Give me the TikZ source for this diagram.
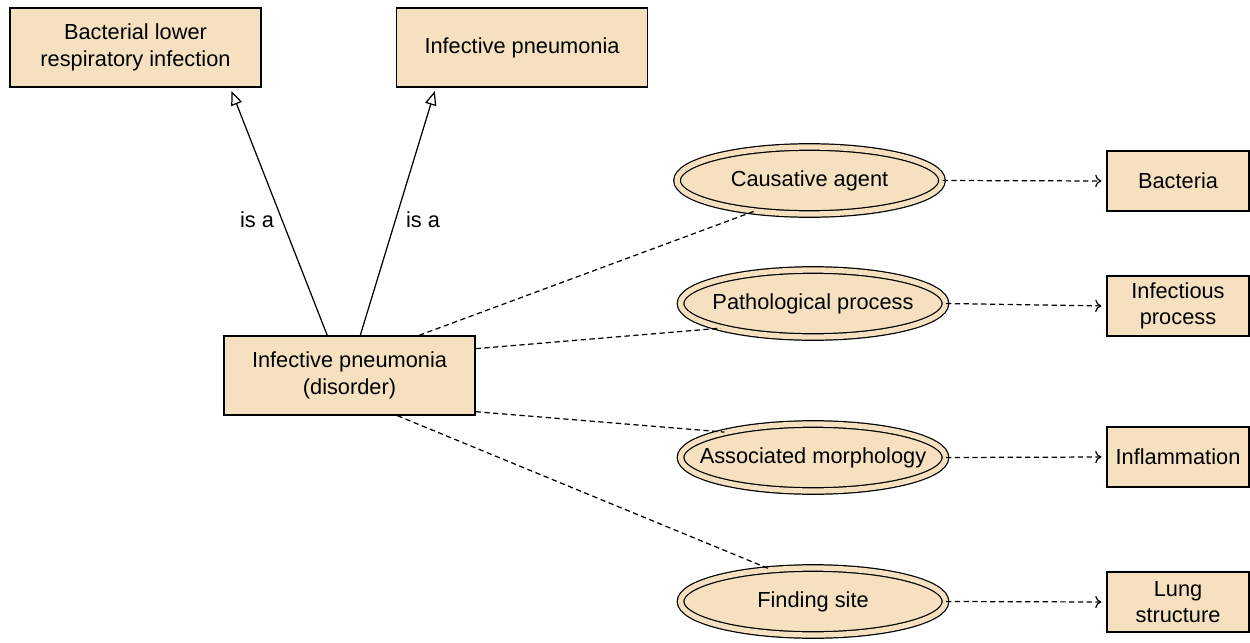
\documentclass[tikz,border=0pt]{standalone}
\usepackage{fontspec}
\setmainfont{Liberation Sans}
\usepackage{tikz}
\usetikzlibrary{shapes,arrows,arrows.meta}
\usetikzlibrary{calc}
\definecolor{conceptfill}{HTML}{F5E1C0}

\begin{document}
\begin{tikzpicture}[x=0.02cm, y=-0.02cm,
	every node/.style={font=\fontsize{12.4}{15}\selectfont},
	concept/.style={draw, line width=0.8pt, fill=conceptfill, align=center, minimum width=5.02cm, minimum height=1.58cm, inner sep=2pt},
	valuebox/.style={concept, minimum width=2.84cm, minimum height=1.2cm},
	attribute/.style={ellipse, draw, line width=0.7pt, double=conceptfill, double distance=3pt, fill=conceptfill, minimum width=5.3cm, minimum height=1.34cm, inner sep=0pt},
	isa/.style={-{Triangle[open, length=8pt, width=6.5pt]}, line width=0.7pt, shorten >=2pt},
	rel/.style={line width=0.7pt, dash pattern=on 3pt off 2pt},
	relarrow/.style={rel, -{To[length=3.5pt, width=7pt]}, shorten >=2.8pt}]
	\useasboundingbox (0,0) rectangle (1250,642);
	
	\def\xv{1178} % column of the values
	\def\xa{813} % column of the attributes
	
	% parents
	\node[concept] (bact) at (135.5,47.5) {Bacterial lower\\respiratory infection};
	\node[concept] (pneu) at (522,47.5) {Infective pneumonia};
	
	% the disorder
	\node[concept] (dis) at (349.5,375.5) {Infective pneumonia\\(disorder)};
	
	% is a
	\draw[isa] (dis.119) -- (bact.-23);
	\draw[isa] (dis.75) -- (pneu.-155);
	\node (isa1) at (257,220) {is a};
	\node (isa2) at (423,220) {is a};
	
	% attributes (text kept out of the size of the ellipse)
	\node[attribute] (ca) at (809.5,180.5) {\makebox[0pt]{Causative agent}};
	\node[attribute] (pp) at (\xa,303.5) {\makebox[0pt]{Pathological process}};
	\node[attribute] (am) at (\xa,457.5) {\makebox[0pt]{Associated morphology}};
	\node[attribute] (fs) at (\xa,601.5) {\makebox[0pt]{Finding site}};
	
	% values
	\node[valuebox] (bac) at (\xv,181) {Bacteria};
	\node[valuebox] (ip) at (\xv,306) {Infectious\\process};
	\node[valuebox] (inf) at (\xv,457) {Inflammation};
	\node[valuebox] (lung) at (\xv,602) {Lung\\structure};
	
	% disorder to attributes
	\draw[rel] (dis.30) -- (ca.209);
	\draw[rel] (dis.12) -- (pp.195);
	\draw[rel] (dis.-16) -- (am.164);
	\draw[rel] (dis.-40) -- (fs.143);
	
	% attributes to values
	\draw[relarrow] (ca.east) -- (bac.west);
	\draw[relarrow] (pp.east) -- (ip.west);
	\draw[relarrow] (am.east) -- (inf.west);
	\draw[relarrow] (fs.east) -- (lung.west);
\end{tikzpicture}
\end{document}
